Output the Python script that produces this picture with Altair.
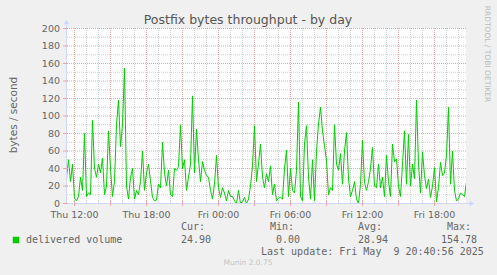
import altair as alt
import pandas as pd

# ---- data (10-minute steps starting Thu 11:20) ----
start_hour = 11 + 20 / 60
step_minutes = 10
volume = [
    30, 50, 25, 45, 6, 3, 8, 30, 15, 80, 8, 12, 10, 95, 40, 30, 45, 35, 52, 10,
    20, 83, 40, 8, 25, 90, 118, 65, 90, 154.78, 20, 5, 30, 40, 5, 15, 10, 25, 60, 15,
    35, 45,
    26, 7, 3, 4, 22, 18, 70, 35, 20, 38, 10, 8, 40, 38, 42, 90, 40, 50, 15, 30,
    45, 123, 35, 85, 50, 25, 48, 38, 32, 30, 15, 5, 22, 55, 18, 7, 18, 12, 3, 15, 8,
    8, 3, 0, 15, 0, 2, 7, 0, 5, 20, 43, 89, 25, 45, 68, 30, 18, 34, 25, 43,
    10, 22, 3, 6, 7, 5, 40, 61, 8, 40, 15, 12, 38, 116, 8, 3, 68, 89, 30, 5, 50,
    3, 59, 91, 110, 83, 66, 49, 10, 18, 15, 90, 45, 38, 57, 22, 60, 81, 28, 8, 15,
    25, 5, 0, 22, 72, 24, 15, 25, 40, 64, 20, 18, 45, 18, 30, 8, 55, 25, 8, 68, 48,
    51, 20, 8, 45, 83, 22, 79, 20, 45, 28, 118, 45, 12, 59, 32, 17, 28, 7, 20, 41,
    2, 18, 47, 32, 35, 55, 110, 22, 60, 15, 3, 5, 12, 10, 8, 24.9,
]
x_tick_hours = [12, 18, 24, 30, 36, 42]
x_tick_labels = ["Thu 12:00", "Thu 18:00", "Fri 00:00", "Fri 06:00", "Fri 12:00", "Fri 18:00"]
y_ticks = [0, 20, 40, 60, 80, 100, 120, 140, 160, 180, 200]
y_minor = [10, 30, 50, 70, 90, 110, 130, 150, 170, 190]
x_major = [12, 15, 18, 21, 24, 27, 30, 33, 36, 39, 42]
x_minor = [h for h in range(12, 45) if h % 3 != 0]

legend_heads = ["Cur:", "Min:", "Avg:", "Max:"]
legend_vals = ["24.90", "0.00", "28.94", "154.78"]

hours = [start_hour + i * step_minutes / 60 for i in range(len(volume))]
df = pd.DataFrame({"hour": hours, "volume": volume})

W, H = 400, 175
half_px_hours = 0.5 / 12
x_dom = [start_hour - half_px_hours, start_hour + 2000 / 60 - half_px_hours]
xs = alt.Scale(domain=x_dom, nice=False, zero=False)
ys = alt.Scale(domain=[0, 200], nice=False, range=[H + 0.5, 0.5])

GRID = "#CFCFCF"
MGRID = "#E6A6A6"
AXIS = "#CFD6F8"
FONT = "#666666"
MONO = "DejaVu Sans Mono"
SANS = "DejaVu Sans"

def hrules(vals, color):
    return alt.Chart(pd.DataFrame({"v": vals})).mark_rule(
        color=color, strokeDash=[1, 1], strokeWidth=1
    ).encode(y=alt.Y("v:Q", scale=ys, axis=None))

def vrules(vals, color):
    return alt.Chart(pd.DataFrame({"h": vals})).mark_rule(
        color=color, strokeDash=[1, 1], strokeWidth=1
    ).encode(x=alt.X("h:Q", scale=xs, axis=None))

layers = [
    hrules(y_minor, GRID),
    vrules(x_minor, GRID),
    hrules(y_ticks[1:], MGRID),
    vrules(x_major, MGRID),
]

line = alt.Chart(df).mark_line(color="#00CC00", strokeWidth=1, clip=True).encode(
    x=alt.X("hour:Q", scale=xs, axis=None),
    y=alt.Y("volume:Q", scale=ys, axis=None),
)
layers.append(line)

# axis lines and arrows
layers.append(alt.Chart(pd.DataFrame({"a": [0]})).mark_rule(color=AXIS, strokeWidth=1).encode(
    x=alt.value(0.5), y=alt.value(-4), y2=alt.value(H)))
layers.append(alt.Chart(pd.DataFrame({"a": [0]})).mark_rule(color=AXIS, strokeWidth=1).encode(
    x=alt.value(0), x2=alt.value(W + 4), y=alt.value(H + 0.5)))
layers.append(alt.Chart(pd.DataFrame({"a": [0]})).mark_point(
    shape="triangle-up", filled=True, color=AXIS, size=30, opacity=1).encode(
    x=alt.value(0.5), y=alt.value(-6)))
layers.append(alt.Chart(pd.DataFrame({"a": [0]})).mark_point(
    shape="triangle-right", filled=True, color=AXIS, size=30, opacity=1).encode(
    x=alt.value(W + 6), y=alt.value(H + 0.5)))

# tick marks
layers.append(alt.Chart(pd.DataFrame({"h": x_major})).mark_rule(color=MGRID).encode(
    x=alt.X("h:Q", scale=xs, axis=None), y=alt.value(H - 2), y2=alt.value(H + 3)))
layers.append(alt.Chart(pd.DataFrame({"v": y_ticks})).mark_rule(color=MGRID).encode(
    y=alt.Y("v:Q", scale=ys, axis=None), x=alt.value(-3), x2=alt.value(2)))

# tick labels
layers.append(alt.Chart(pd.DataFrame({"h": x_tick_hours, "t": x_tick_labels})).mark_text(
    font=SANS, fontSize=9.5, color=FONT, baseline="alphabetic", align="center").encode(
    x=alt.X("h:Q", scale=xs, axis=None), y=alt.value(H + 15), text="t:N"))
layers.append(alt.Chart(pd.DataFrame({"v": y_ticks})).mark_text(
    font=SANS, fontSize=9.5, color=FONT, baseline="middle", align="right").encode(
    y=alt.Y("v:Q", scale=ys, axis=None), x=alt.value(-6), text="v:Q"))

def label(txt, x, y, size=10, font=MONO, color=FONT, align="left", baseline="middle", angle=0):
    return alt.Chart(pd.DataFrame({"t": [txt]})).mark_text(
        font=font, fontSize=size, color=color, align=align, baseline=baseline, angle=angle
    ).encode(x=alt.value(x), y=alt.value(y), text="t:N")

layers.append(label("Postfix bytes throughput - by day", 182, -4, size=12.5, font=SANS,
                    color="#555555", align="center", baseline="alphabetic"))
layers.append(label("bytes / second", -52, 87, size=10.5, font=SANS, align="center", angle=270))
layers.append(label("RRDTOOL / TOBI OETIKER", 421, 26, size=7.5, font=SANS,
                    color="#BBBBBB", align="center", angle=90))

layers.append(alt.Chart(pd.DataFrame({"a": [0]})).mark_square(color="#00CC00", size=42, opacity=1).encode(
    x=alt.value(-50), y=alt.value(212)))
layers.append(label("delivered volume", -40, 212))
head_x = [115, 204, 292, 381]
val_x = [115, 210, 292, 375]
for t, xx in zip(legend_heads, head_x):
    layers.append(label(t, xx, 199))
for t, xx in zip(legend_vals, val_x):
    layers.append(label(t, xx, 212))
layers.append(label("Last update: Fri May\u00a0 9 20:40:56 2025", 195, 224))
layers.append(label("Munin 2.0.75", 182, 235, size=7.5, font=SANS, color="#C4C4C4", align="center"))

chart = alt.layer(*layers).properties(
    width=W, height=H,
    autosize=alt.AutoSizeParams(type="none"),
    padding={"left": 66, "top": 28, "right": 31, "bottom": 72},
    background="#F0F0F0",
).configure_view(fill="white", stroke=None)

chart.save("out.html", embed_options={"renderer": "svg", "actions": False})
